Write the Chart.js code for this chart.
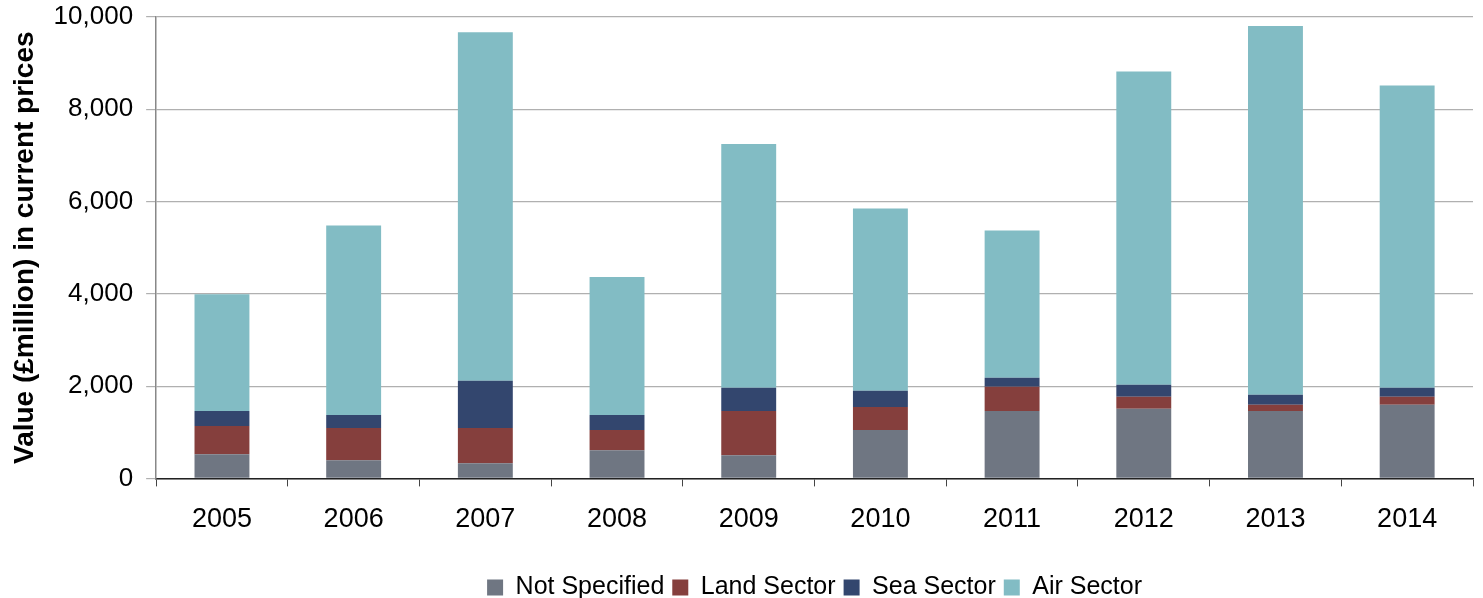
<!DOCTYPE html>
<html>
<head>
<meta charset="utf-8">
<script src="https://cdn.jsdelivr.net/npm/chart.js@4"></script>
<style>
  html, body { margin: 0; padding: 0; background: #fff; }
  #wrap { width: 1483px; height: 598px; }
</style>
</head>
<body>
<div id="wrap"><canvas id="myChart"></canvas></div>
<script>
const years = ['2005', '2006', '2007', '2008', '2009', '2010', '2011', '2012', '2013', '2014'];
const notSpecified = [524, 393, 328, 611, 502, 1048, 1463, 1507, 1463, 1594];
const landSector = [611, 699, 764, 437, 961, 502, 524, 262, 131, 175];
const seaSector = [328, 283, 1026, 327, 502, 350, 196, 262, 218, 196];
const airSector = [2527, 4105, 7554, 2992, 5284, 3952, 3188, 6790, 7991, 6550];

Chart.defaults.font.family = '"Liberation Sans", Arial, sans-serif';
Chart.defaults.color = '#000';

function makeSet(label, data, color) {
    return {
        label: label,
        data: data,
        backgroundColor: color,
        borderWidth: 0,
        barPercentage: 0.417,
        categoryPercentage: 1.0
    };
}

const ctx = document.getElementById('myChart');
const myChart = new Chart(ctx, {
    type: 'bar',
    data: {
        labels: years,
        datasets: [
            makeSet('Not Specified', notSpecified, '#6f7682'),
            makeSet('Land Sector', landSector, '#853f3d'),
            makeSet('Sea Sector', seaSector, '#33466e'),
            makeSet('Air Sector', airSector, '#82bcc4')
        ]
    },
    options: {
        responsive: true,
        maintainAspectRatio: false,
        animation: false,
        layout: { padding: { top: 4, right: 10, left: 4, bottom: -12 } },
        plugins: {
            tooltip: { enabled: false },
            legend: {
                position: 'bottom',
                fullSize: false,
                title: {
                    display: true,
                    text: ' ',
                    font: { size: 1 },
                    padding: { top: 13, bottom: 0 }
                },
                labels: {
                    boxWidth: 16,
                    boxHeight: 16,
                    padding: 8,
                    font: { size: 25 }
                }
            }
        },
        scales: {
            x: {
                stacked: true,
                grid: {
                    display: true,
                    drawOnChartArea: false,
                    offset: true,
                    tickLength: 8,
                    color: '#444'
                },
                border: { color: '#222', width: 1.5 },
                ticks: { font: { size: 27 }, padding: 17 }
            },
            y: {
                stacked: true,
                min: 0,
                max: 10000,
                afterFit: function(s) {
                    // keep the label gap but don't let it push the plot down
                    s.width -= 11;
                    s.paddingTop = 17;
                    s.paddingBottom = 17;
                },
                title: {
                    display: true,
                    text: 'Value (£million) in current prices',
                    font: { size: 28, weight: 'bold' },
                    padding: { top: 4, bottom: 10 }
                },
                grid: {
                    color: '#b0b0b0',
                    tickLength: 10,
                    lineWidth: 1.2
                },
                border: { color: '#888', width: 1.5 },
                ticks: {
                    stepSize: 2000,
                    font: { size: 26 },
                    padding: 13,
                    callback: function(v) { return v.toLocaleString('en-US'); }
                }
            }
        }
    }
});
</script>
</body>
</html>
